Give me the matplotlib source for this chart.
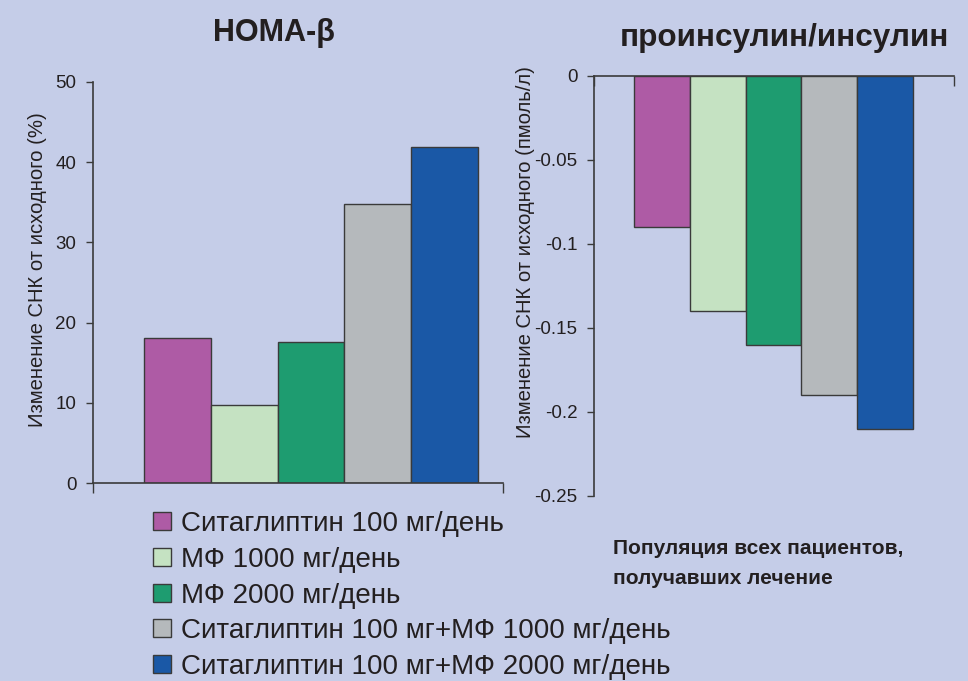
import matplotlib
matplotlib.use("Agg")
import matplotlib.pyplot as plt
from matplotlib.patches import Patch

plt.rcParams['font.family'] = ['Liberation Sans', 'DejaVu Sans']

groups = ["Ситаглиптин 100 мг/день",
          "МФ 1000 мг/день",
          "МФ 2000 мг/день",
          "Ситаглиптин 100 мг+МФ 1000 мг/день",
          "Ситаглиптин 100 мг+МФ 2000 мг/день"]
colors = ["#AE5BA5", "#C5E2C2", "#1E9C70", "#B5B9BC", "#1A58A6"]
homa = [18.1, 9.7, 17.6, 34.8, 41.9]
proins = [-0.09, -0.14, -0.16, -0.19, -0.21]
homa_ticks = [0, 10, 20, 30, 40, 50]
proins_ticks = [0, -0.05, -0.1, -0.15, -0.2, -0.25]
proins_ticklabels = ["0", "-0.05", "-0.1", "-0.15", "-0.2", "-0.25"]

bg = "#C5CDE8"
txt = "#231F20"
edge = "#3a3a3a"

fig = plt.figure(figsize=(9.68, 6.81), dpi=100, facecolor=bg)

# left panel: HOMA-beta
ax1 = fig.add_axes([0.0961, 0.2907, 0.4236, 0.5889])
ax1.set_facecolor(bg)
x = list(range(len(homa)))
ax1.bar(x, homa, width=1.0, color=colors, edgecolor=edge, linewidth=1.0)
ax1.set_xlim(-1.263, 4.874)
ax1.set_ylim(0, 50)
ax1.set_yticks(homa_ticks)
ax1.set_xticks([-1.263, 4.874])
ax1.set_xticklabels([])
for s in ["top", "right"]:
    ax1.spines[s].set_visible(False)
for s in ["left", "bottom"]:
    ax1.spines[s].set_color(edge)
    ax1.spines[s].set_linewidth(1.2)
ax1.tick_params(axis="y", length=5, width=1.0, color=edge, labelsize=13.5,
                labelcolor=txt, pad=7)
ax1.tick_params(axis="x", length=7, width=1.0, color=edge)
ax1.set_ylabel("Изменение СНК от исходного (%)", fontsize=14.6, color=txt)
ax1.yaxis.set_label_coords(-0.112, 0.531)
fig.text(0.283, 0.952, "HOMA-β", fontsize=22, fontweight="bold",
         color=txt, ha="center", va="center")

# right panel: proinsulin/insulin
ax2 = fig.add_axes([0.6136, 0.2717, 0.3719, 0.6167])
ax2.set_facecolor(bg)
ax2.bar(x, proins, width=1.0, color=colors, edgecolor=edge, linewidth=1.0)
ax2.set_xlim(-1.217, 5.235)
ax2.set_ylim(-0.25, 0)
ax2.set_yticks(proins_ticks)
ax2.set_yticklabels(proins_ticklabels)
ax2.xaxis.tick_top()
ax2.set_xticks([-1.217, 5.235])
ax2.set_xticklabels([])
for s in ["bottom", "right"]:
    ax2.spines[s].set_visible(False)
for s in ["left", "top"]:
    ax2.spines[s].set_color(edge)
    ax2.spines[s].set_linewidth(1.2)
ax2.tick_params(axis="y", length=5, width=1.0, color=edge, labelsize=13.5,
                labelcolor=txt, pad=7)
ax2.tick_params(axis="x", direction="in", length=7, width=1.0, color=edge)
ax2.set_ylabel("Изменение СНК от исходного (пмоль/л)", fontsize=14.6, color=txt)
ax2.yaxis.set_label_coords(-0.164, 0.581)
fig.text(0.81, 0.944, "проинсулин/инсулин", fontsize=22.7, fontweight="bold",
         color=txt, ha="center", va="center")

# legend
handles = [Patch(facecolor=c, edgecolor=edge, linewidth=1.0) for c in colors]
fig.legend(handles, groups, loc="upper left", bbox_to_anchor=(0.1585, 0.2495),
           frameon=False, handlelength=0.65, handleheight=0.62, handletextpad=0.33,
           labelspacing=0.35, borderaxespad=0, borderpad=0,
           prop={"size": 20}, labelcolor=txt)

fig.text(0.633, 0.194, "Популяция всех пациентов,", fontsize=15, fontweight="bold",
         color=txt, ha="left", va="center")
fig.text(0.633, 0.151, "получавших лечение", fontsize=15, fontweight="bold",
         color=txt, ha="left", va="center")

fig.savefig("out.png", dpi=100, facecolor=bg)
